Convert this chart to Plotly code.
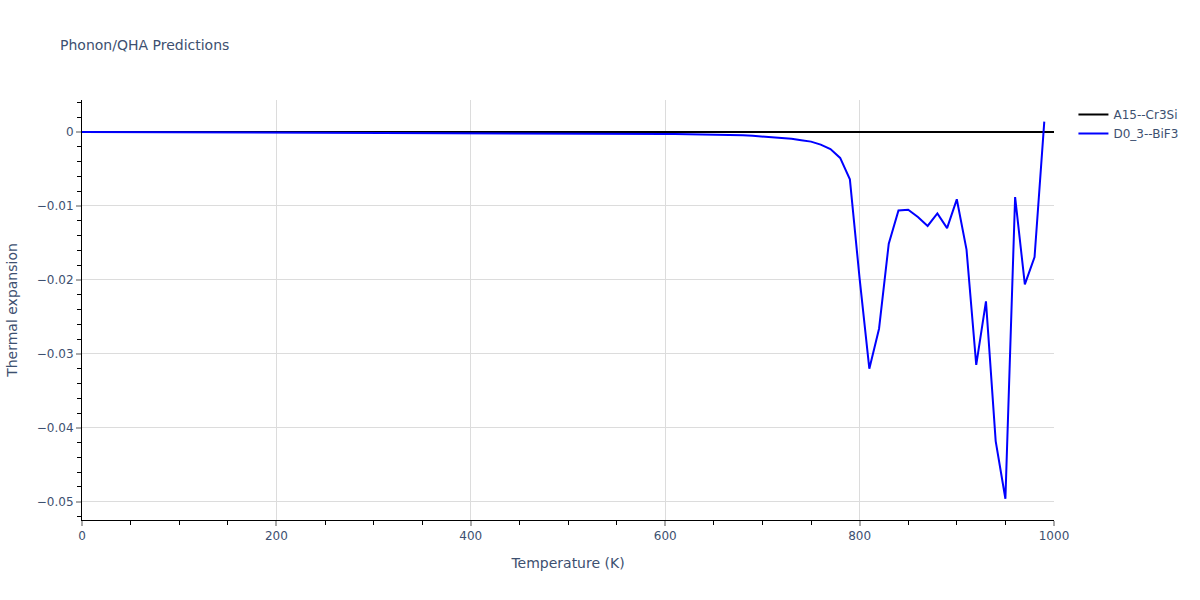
import plotly.graph_objects as go

# A15--Cr3Si: temperature grid and thermal expansion (flat at zero)
temp_a15 = list(range(0, 1001, 10))
alpha_a15 = [0.0] * len(temp_a15)

# D0_3--BiF3: temperature grid (0..990 K) and thermal expansion
temp_bif3 = list(range(0, 991, 10))
alpha_bif3 = [
    # 0 - 90 K
    0.0, -0.000003, -0.000005, -0.000008, -0.00001, -0.000013, -0.000015, -0.000018, -0.00002, -0.000023,
    # 100 - 190 K
    -0.000025, -0.000028, -0.00003, -0.000033, -0.000035, -0.000038, -0.00004, -0.000043, -0.000046, -0.000049,
    # 200 - 290 K
    -0.000052, -0.000055, -0.000058, -0.000061, -0.000064, -0.000067, -0.00007, -0.000073, -0.000076, -0.00008,
    # 300 - 390 K
    -0.000083, -0.000087, -0.00009, -0.000094, -0.000098, -0.000102, -0.000106, -0.00011, -0.000114, -0.000118,
    # 400 - 490 K
    -0.000122, -0.000127, -0.000132, -0.000137, -0.000142, -0.000147, -0.000152, -0.000158, -0.000164, -0.00017,
    # 500 - 590 K
    -0.000176, -0.000183, -0.00019, -0.000197, -0.000205, -0.000213, -0.000222, -0.000231, -0.00024, -0.00025,
    # 600 - 690 K
    -0.00026, -0.000272, -0.000284, -0.000297, -0.00031, -0.000325, -0.00034, -0.00036, -0.00045, -0.00052,
    # 700 - 790 K
    -0.0006, -0.0007, -0.0008, -0.0009, -0.0011, -0.0013, -0.0017, -0.0023, -0.0035, -0.0064,
    # 800 - 890 K
    -0.0198, -0.0320, -0.0266, -0.0151, -0.0106, -0.0105, -0.0115, -0.0127, -0.0110, -0.0130,
    # 900 - 990 K
    -0.0091, -0.0159, -0.0315, -0.0229, -0.0418, -0.0496, -0.0088, -0.0206, -0.0169, 0.0014,
]

series_names = ["A15--Cr3Si", "D0_3--BiF3"]
series_colors = ["black", "blue"]

fig = go.Figure()
fig.add_trace(go.Scatter(x=temp_a15, y=alpha_a15, mode="lines", name=series_names[0],
                         line=dict(color=series_colors[0], width=2)))
fig.add_trace(go.Scatter(x=temp_bif3, y=alpha_bif3, mode="lines", name=series_names[1],
                         line=dict(color=series_colors[1], width=2)))

axis_common = dict(
    showline=True, linecolor="black", linewidth=1,
    showgrid=True, gridcolor="#dcdcdc", gridwidth=1,
    zeroline=False,
    ticks="outside", tickcolor="#aaaaaa", ticklen=5, tickwidth=2,
    minor=dict(ticks="outside", tickcolor="black", ticklen=4, tickwidth=1),
)

fig.update_layout(
    template="plotly_white",
    width=1200, height=600,
    font=dict(family="DejaVu Sans", color="#3d5070"),
    title=dict(text="Phonon/QHA Predictions", font=dict(size=14)),
    xaxis=dict(title=dict(text="Temperature (K)"), range=[0, 1000], **axis_common),
    yaxis=dict(title=dict(text="Thermal expansion"), range=[-0.05247, 0.00433],
               dtick=0.01, **axis_common),
    margin=dict(l=80, r=146, t=100, b=80),
    legend=dict(x=1.02, y=1, xanchor="left", yanchor="top"),
)

fig.write_html("out.html", config={"displayModeBar": False},
               post_script="document.body.style.margin='0';")
